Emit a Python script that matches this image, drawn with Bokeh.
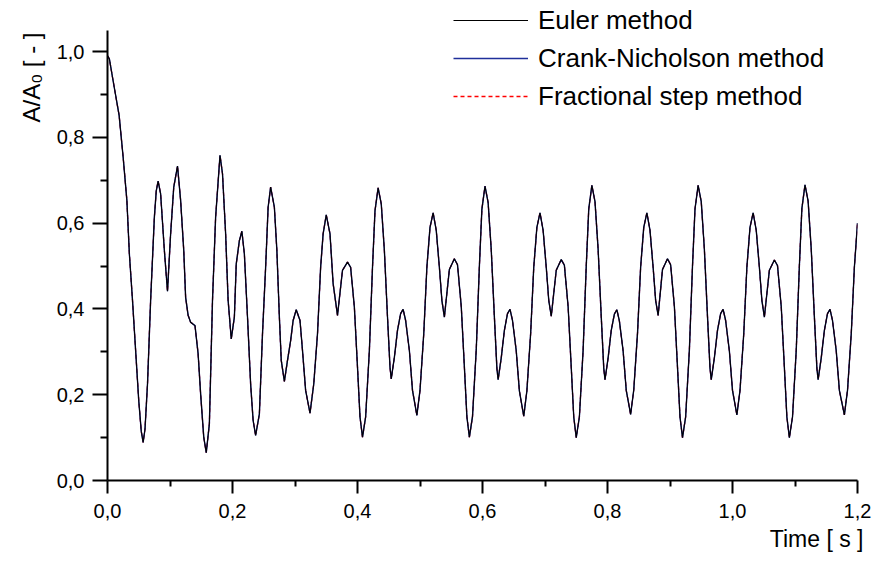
import math
from bokeh.plotting import figure
from bokeh.models import (Range1d, FixedTicker, CustomJSTickFormatter,
                          Legend, LegendItem, ColumnDataSource, Title)
from bokeh.embed import file_html
from bokeh.resources import INLINE

# ---- data ----
time_s = [
    0.000, 0.003, 0.008, 0.0186, 0.025, 0.031, 0.035, 0.040, 0.045, 0.050,
    0.054, 0.057, 0.060, 0.064, 0.069, 0.075, 0.078, 0.081, 0.085, 0.091,
    0.096, 0.101, 0.106, 0.112, 0.117, 0.122, 0.125, 0.129, 0.133, 0.140,
    0.145, 0.149, 0.154, 0.158, 0.163, 0.168, 0.173, 0.180, 0.184, 0.189,
    0.193, 0.198, 0.203, 0.206, 0.211, 0.215, 0.219, 0.224, 0.229, 0.233,
    0.237, 0.243, 0.248, 0.253, 0.257, 0.261, 0.267, 0.271, 0.275, 0.278,
    0.283, 0.288, 0.293, 0.297, 0.302, 0.308, 0.312, 0.317, 0.324, 0.330,
    0.336, 0.341, 0.345, 0.350, 0.356, 0.361, 0.368,
    0.376, 0.384, 0.389, 0.395, 0.400, 0.404, 0.408, 0.413, 0.419, 0.424,
    0.428, 0.433, 0.438, 0.443, 0.448, 0.452, 0.454, 0.459, 0.464, 0.469,
    0.473, 0.477, 0.483, 0.488, 0.495, 0.500, 0.506, 0.511, 0.516, 0.521,
    0.526, 0.531, 0.535, 0.539,
    0.547, 0.555, 0.560, 0.566, 0.571, 0.575, 0.579, 0.584, 0.590, 0.595,
    0.599, 0.604, 0.609, 0.614, 0.619, 0.623, 0.625, 0.630, 0.635, 0.640,
    0.644, 0.648, 0.654, 0.659, 0.666, 0.671, 0.677, 0.682, 0.687, 0.692,
    0.697, 0.702, 0.706, 0.710,
    0.718, 0.726, 0.731, 0.737, 0.742, 0.746, 0.750, 0.755, 0.761, 0.766,
    0.770, 0.775, 0.780, 0.785, 0.790, 0.794, 0.796, 0.801, 0.806, 0.811,
    0.815, 0.819, 0.825, 0.830, 0.837, 0.842, 0.848, 0.853, 0.858, 0.863,
    0.868, 0.873, 0.877, 0.881,
    0.888, 0.896, 0.901, 0.907, 0.912, 0.916, 0.920, 0.925, 0.931, 0.936,
    0.940, 0.945, 0.950, 0.955, 0.960, 0.964, 0.966, 0.971, 0.976, 0.981,
    0.985, 0.989, 0.995, 1.000, 1.007, 1.012, 1.018, 1.023, 1.028, 1.033,
    1.038, 1.043, 1.047, 1.051,
    1.059, 1.067, 1.072, 1.078, 1.083, 1.087, 1.091, 1.096, 1.102, 1.107,
    1.111, 1.116, 1.121, 1.126, 1.131, 1.135, 1.137, 1.142, 1.147, 1.152,
    1.156, 1.160, 1.166, 1.171, 1.179, 1.184, 1.190, 1.195, 1.200,
]
ratio = [
    0.990, 0.983, 0.940, 0.851, 0.754, 0.653, 0.528, 0.420, 0.303, 0.186,
    0.115, 0.089, 0.120, 0.225, 0.420, 0.614, 0.675, 0.698, 0.668, 0.536,
    0.441, 0.575, 0.684, 0.733, 0.653, 0.536, 0.427, 0.385, 0.369, 0.361,
    0.295, 0.202, 0.101, 0.065, 0.132, 0.420, 0.614, 0.758, 0.715, 0.575,
    0.420, 0.330, 0.381, 0.505, 0.559, 0.581, 0.528, 0.381, 0.225, 0.140,
    0.105, 0.155, 0.342, 0.497, 0.637, 0.684, 0.637, 0.536, 0.381, 0.280,
    0.231, 0.280, 0.326, 0.373, 0.398, 0.373, 0.303, 0.210, 0.157, 0.225,
    0.342, 0.497, 0.575, 0.619, 0.575, 0.459, 0.385,
    0.490, 0.509, 0.497, 0.404, 0.264, 0.148, 0.101, 0.148, 0.303, 0.497,
    0.629, 0.682, 0.645, 0.536, 0.381, 0.264, 0.237, 0.287, 0.350, 0.389,
    0.399, 0.373, 0.303, 0.210, 0.152, 0.210, 0.342, 0.497, 0.590, 0.624,
    0.583, 0.497, 0.420, 0.381,
    0.492, 0.517, 0.503, 0.406, 0.265, 0.149, 0.101, 0.149, 0.305, 0.499,
    0.632, 0.686, 0.648, 0.538, 0.382, 0.262, 0.235, 0.286, 0.350, 0.389,
    0.399, 0.373, 0.302, 0.209, 0.150, 0.209, 0.342, 0.497, 0.590, 0.624,
    0.583, 0.497, 0.420, 0.383,
    0.490, 0.515, 0.502, 0.405, 0.264, 0.148, 0.100, 0.148, 0.304, 0.500,
    0.633, 0.688, 0.650, 0.539, 0.382, 0.262, 0.235, 0.286, 0.350, 0.388,
    0.398, 0.372, 0.302, 0.210, 0.154, 0.211, 0.343, 0.497, 0.590, 0.624,
    0.583, 0.497, 0.420, 0.385,
    0.492, 0.517, 0.503, 0.406, 0.264, 0.148, 0.100, 0.148, 0.304, 0.500,
    0.633, 0.688, 0.650, 0.539, 0.382, 0.262, 0.235, 0.286, 0.350, 0.389,
    0.399, 0.373, 0.302, 0.210, 0.153, 0.210, 0.342, 0.497, 0.590, 0.624,
    0.583, 0.497, 0.420, 0.381,
    0.490, 0.514, 0.501, 0.405, 0.264, 0.148, 0.100, 0.148, 0.304, 0.500,
    0.634, 0.689, 0.651, 0.539, 0.382, 0.262, 0.235, 0.286, 0.350, 0.389,
    0.399, 0.373, 0.302, 0.210, 0.153, 0.210, 0.342, 0.497, 0.600,
]
euler = ratio
crank_nicholson = ratio
fractional_step = ratio

series_labels = ["Euler method", "Crank-Nicholson method", "Fractional step method"]
x_title = "Time [ s ]"
y_title = "A/A\u2080 [ - ]"
x_ticks = [0.0, 0.2, 0.4, 0.6, 0.8, 1.0, 1.2]
x_minor = [0.1, 0.3, 0.5, 0.7, 0.9, 1.1]
y_ticks = [0.0, 0.2, 0.4, 0.6, 0.8, 1.0]
y_minor = [0.1, 0.3, 0.5, 0.7, 0.9]

FONT = "Liberation Sans"

p = figure(width=874, height=561, output_backend="svg", toolbar_location=None,
           x_range=Range1d(0, 1.2), y_range=Range1d(0, 1.1189),
           min_border_left=107, min_border_right=17, min_border_top=0,
           min_border_bottom=81)
p.outline_line_color = None
p.xgrid.visible = False
p.ygrid.visible = False
p.background_fill_color = "white"
p.border_fill_color = "white"

src = ColumnDataSource(dict(t=time_s, e=euler, c=crank_nicholson, f=fractional_step))
r_f = p.line("t", "f", source=src, line_color="red", line_width=1.3, line_dash="4 3")
r_c = p.line("t", "c", source=src, line_color="#1f2f9a", line_width=1.4)
r_e = p.line("t", "e", source=src, line_color="black", line_width=1.1)

fmt = CustomJSTickFormatter(code="return tick.toFixed(1).replace('.', ',');")

xa = p.xaxis[0]
xa.ticker = FixedTicker(ticks=x_ticks, minor_ticks=x_minor)
xa.formatter = fmt
xa.axis_line_width = 2
xa.major_tick_line_width = 2
xa.minor_tick_line_width = 2
xa.major_tick_out = 13
xa.major_tick_in = 0
xa.minor_tick_out = 6
xa.minor_tick_in = 0
xa.major_label_standoff = 10
xa.major_label_text_font = FONT
xa.major_label_text_font_size = "20px"
xa.major_label_text_color = "black"

ya = p.yaxis[0]
ya.ticker = FixedTicker(ticks=y_ticks, minor_ticks=y_minor)
ya.formatter = fmt
ya.bounds = (0, 1.05)
ya.axis_line_width = 2
ya.major_tick_line_width = 2
ya.minor_tick_line_width = 2
ya.major_tick_out = 15
ya.major_tick_in = 0
ya.minor_tick_out = 7
ya.minor_tick_in = 0
ya.major_label_standoff = 8
ya.major_label_text_font = FONT
ya.major_label_text_font_size = "20px"
ya.major_label_text_color = "black"

xt = Title(text=x_title, align="right", offset=-6, standoff=6,
           text_font=FONT, text_font_size="23px", text_font_style="normal",
           text_color="black")
p.add_layout(xt, "below")
yt = Title(text=y_title, align="right", offset=32, standoff=17,
           text_font=FONT, text_font_size="24px", text_font_style="normal",
           text_color="black")
p.add_layout(yt, "left")

legend = Legend(items=[LegendItem(label=series_labels[0], renderers=[r_e]),
                       LegendItem(label=series_labels[1], renderers=[r_c]),
                       LegendItem(label=series_labels[2], renderers=[r_f])],
                location=(346, 365), padding=0, margin=0, spacing=0,
                border_line_color=None, background_fill_alpha=0,
                glyph_width=75, glyph_height=38, label_height=38,
                label_standoff=10, label_text_font=FONT,
                label_text_font_size="26px", label_text_color="black")
p.add_layout(legend, "center")

open("out.html", "w").write(file_html(p, INLINE))
